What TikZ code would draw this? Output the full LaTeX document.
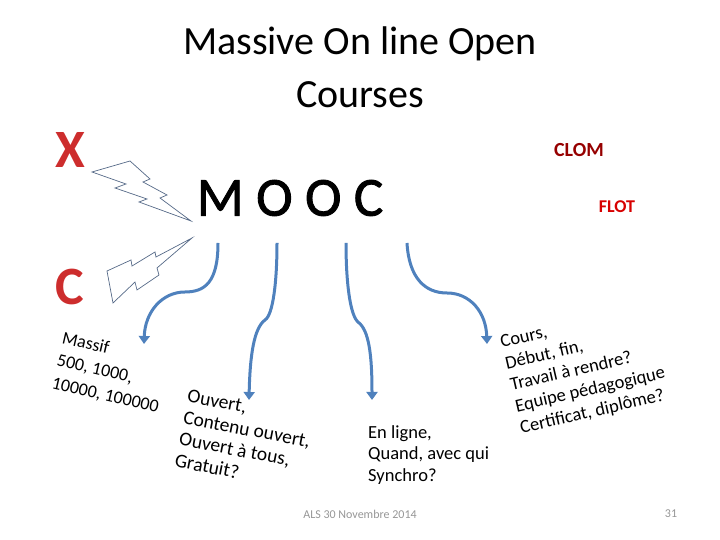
\documentclass[tikz,border=0pt]{standalone}
\usepackage{fontspec}
\setmainfont{Carlito}
\newfontfamily\moocfont[FakeBold=1.6]{Carlito}
\usetikzlibrary{arrows.meta}
\definecolor{arrowblue}{RGB}{79,129,189}
\definecolor{boltgray}{RGB}{85,105,135}
\definecolor{letterred}{RGB}{205,45,45}
\definecolor{clomred}{RGB}{150,0,0}
\definecolor{flotred}{RGB}{215,0,0}
\definecolor{footgray}{RGB}{150,150,150}

\begin{document}
\begin{tikzpicture}[x=1pt,y=1pt,
  branch/.style={draw=arrowblue,line width=3pt,-{Triangle[length=8pt,width=11pt]}},
  bolt/.style={draw=boltgray,line width=0.7pt,line join=miter},
  bigletter/.style={text=letterred,font=\fontsize{54}{54}\selectfont\bfseries,inner sep=0pt},
  notes/.style={align=left,anchor=north west,inner sep=0pt,font=\fontsize{18}{22}\selectfont}]
  \useasboundingbox (0,0) rectangle (720,540);
  % title and acronym
  \node[align=center,font=\fontsize{40}{53}\selectfont] (title) at (360,473)
    {Massive On line Open\\Courses};
  \node[font=\moocfont\fontsize{55}{55}\selectfont] (mooc) at (290,342) {M O O C};
  % letters left, names right
  \node[bigletter] (lx) at (70,390) {X};
  \node[bigletter] (lc) at (70,253) {C};
  \node[text=clomred,font=\fontsize{20}{20}\selectfont\bfseries] (clom) at (579,390) {CLOM};
  \node[text=flotred,font=\fontsize{18}{18}\selectfont\bfseries] (flot) at (617,333) {FLOT};
  % lightning bolts
  \draw[bolt] (92,368) -- (130,379) -- (150,361) -- (143,358) -- (167,345) -- (160,342)
    -- (191,319) -- (139,338) -- (147,341) -- (115,352) -- (126,356) -- cycle;
  \draw[bolt] (107,269) -- (131,280) -- (132,274) -- (155,288) -- (156,283) -- (192,302)
    -- (157,272) -- (159,265) -- (137,250) -- (135,258) -- (113,237) -- cycle;
  % the four letters explained
  \node[notes,rotate=-13,font=\fontsize{18}{23}\selectfont] (massif) at (64,209)
    {Massif\\500, 1000,\\10000, 100000};
  \node[notes,rotate=-11,font=\fontsize{19.5}{22}\selectfont] (ouvert) at (189,151)
    {Ouvert,\\Contenu ouvert,\\Ouvert à tous,\\Gratuit?};
  \node[notes,font=\fontsize{18.5}{21.5}\selectfont] (ligne) at (368,115)
    {En ligne,\\Quand, avec qui\\Synchro?};
  \node[notes,rotate=13,font=\fontsize{18.5}{22}\selectfont] (cours) at (499,204)
    {Cours,\\Début, fin,\\Travail à rendre?\\Equipe pédagogique\\Certificat, diplôme?};
  % branches from the acronym
  \coordinate (s1) at (218,297); \coordinate (t1) at (144,196);
  \coordinate (s2) at (277,297); \coordinate (t2) at (249,140);
  \coordinate (s3) at (346,297); \coordinate (t3) at (372,140);
  \coordinate (s4) at (407,297); \coordinate (t4) at (487,196);
  \draw[branch] (s1) .. controls (218,258) and (205,248) .. (185,248)
    .. controls (162,248) and (145,228) .. (t1);
  \draw[branch] (s2) .. controls (277,258) and (273,225) .. (265,220)
    .. controls (254,212) and (250,185) .. (t2);
  \draw[branch] (s3) .. controls (346,258) and (350,225) .. (358,218)
    .. controls (369,210) and (372,185) .. (t3);
  \draw[branch] (s4) .. controls (409,262) and (425,247) .. (447,247)
    .. controls (470,247) and (486,228) .. (t4);
  % footer
  \node[text=footgray,font=\fontsize{12}{12}\selectfont] (date) at (360,26) {ALS 30 Novembre 2014};
  \node[text=footgray,font=\fontsize{12}{12}\selectfont] (page) at (671,26) {31};
\end{tikzpicture}
\end{document}
